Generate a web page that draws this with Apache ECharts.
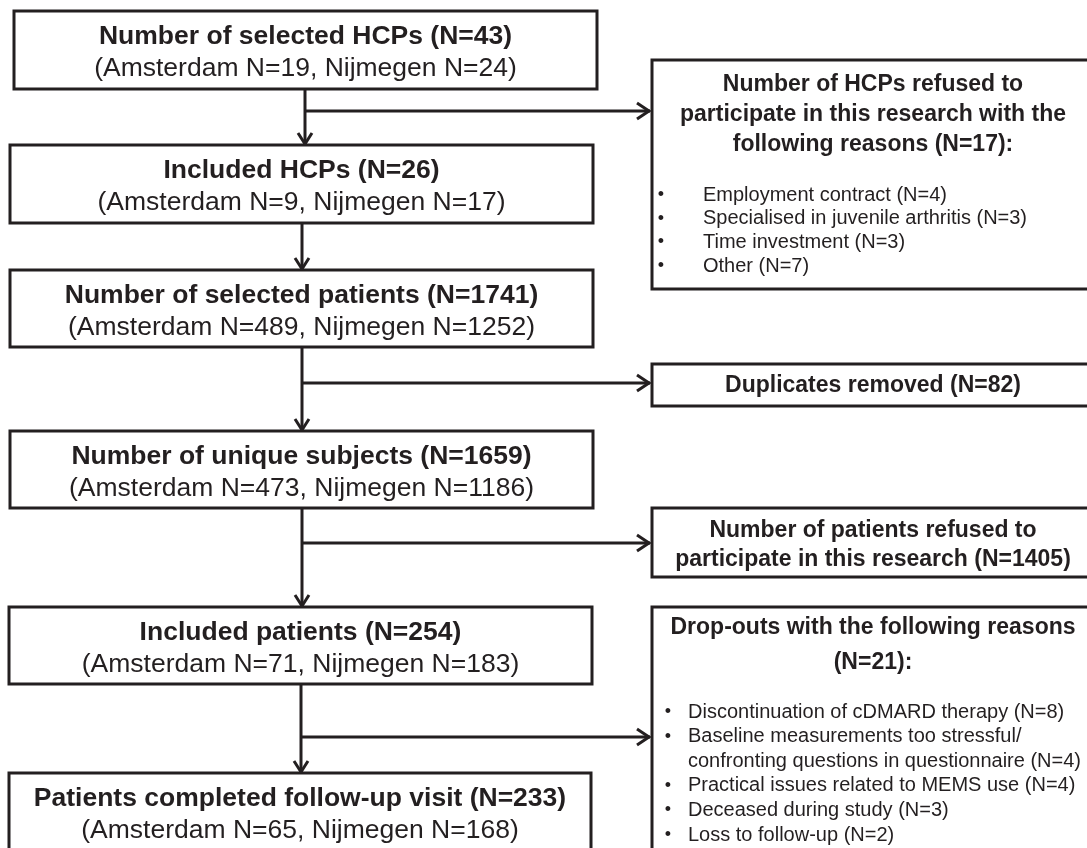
<!DOCTYPE html>
<html><head><meta charset="utf-8">
<script src="https://cdn.jsdelivr.net/npm/echarts@6/dist/echarts.min.js"></script>
<style>html,body{margin:0;padding:0;background:#fff}#c{width:1087px;height:848px}</style>
</head><body><div id="c"></div>
<script>
// ---------------- data ----------------
const stageTitles = ['Number of selected HCPs', 'Included HCPs', 'Number of selected patients',
  'Number of unique subjects', 'Included patients', 'Patients completed follow-up visit'];
const stageTotalN = [43, 26, 1741, 1659, 254, 233];
const stageAmsterdamN = [19, 9, 489, 473, 71, 65];
const stageNijmegenN = [24, 17, 1252, 1186, 183, 168];

const exclusionTitleLines = [
  ['Number of HCPs refused to', 'participate in this research with the', 'following reasons'],
  ['Duplicates removed'],
  ['Number of patients refused to', 'participate in this research'],
  ['Drop-outs with the following reasons', '']
];
const exclusionN = [17, 82, 1405, 21];
const exclusionColon = [true, false, false, true];

const hcpReasons = ['Employment contract', 'Specialised in juvenile arthritis', 'Time investment', 'Other'];
const hcpReasonN = [4, 3, 3, 7];

const dropoutReasons = ['Discontinuation of cDMARD therapy',
  'Baseline measurements too stressful/\nconfronting questions in questionnaire',
  'Practical issues related to MEMS use', 'Deceased during study', 'Loss to follow-up'];
const dropoutReasonN = [8, 4, 4, 3, 2];

// ---------------- layout (pixel space of the hidden axes) ----------------
const L = {
  stageBox: [[14, 597, 11, 89], [10, 593, 145, 223], [10, 593, 270, 347], [10, 593, 431, 508], [9, 592, 607, 684], [9, 591, 773, 900]],
  titleDy: 26, subDy: 58,
  exBox: [[652, 1094, 60, 289], [652, 1094, 364, 406], [652, 1094, 508, 577], [652, 1094, 607, 900]],
  exTitleY: [[85, 115, 145], [386], [531, 560], [628, 663]],
  connectors: [
    {x: 305, y1: 89, y2: 145, by: 111},
    {x: 302, y1: 223, y2: 270},
    {x: 302, y1: 347, y2: 431, by: 383},
    {x: 302, y1: 508, y2: 607, by: 543},
    {x: 301, y1: 684, y2: 773, by: 737}
  ],
  branchEnd: 650,
  hcpBulletX: 661, hcpTextX: 703, hcpY0: 195, hcpStep: 23.7,
  dropBulletX: 668, dropTextX: 688, dropY0: 712, dropStep: 24.6
};

const INK = '#231f20';
const FONT = '"Liberation Sans", Arial, Helvetica, sans-serif';

function txt(x, y, text, size, bold, align) {
  return {
    type: 'text',
    style: {
      text: text, x: x, y: y, fill: INK,
      font: (bold ? 'bold ' : '') + size + 'px ' + FONT,
      align: align || 'center', verticalAlign: 'middle'
    }
  };
}

function rectFrom(api, b) {
  const p1 = api.coord([b[0], b[2]]);
  const p2 = api.coord([b[1], b[3]]);
  return {
    type: 'rect',
    shape: {x: p1[0], y: p1[1], width: p2[0] - p1[0], height: p2[1] - p1[1]},
    style: {fill: '#fff', stroke: INK, lineWidth: 3}
  };
}

const chart = echarts.init(document.getElementById('c'), null, {renderer: 'canvas'});

chart.setOption({
  backgroundColor: '#fff',
  animation: false,
  grid: {left: 0, right: 0, top: 0, bottom: 0},
  xAxis: {type: 'value', min: 0, max: 1087, show: false},
  yAxis: {type: 'value', min: 0, max: 848, inverse: true, show: false},
  series: [
    {
      type: 'custom', name: 'connectors', silent: true,
      data: L.connectors.map((c, i) => [i]),
      renderItem: function (params, api) {
        const c = L.connectors[api.value(0)];
        const top = api.coord([c.x, c.y1]);
        const bot = api.coord([c.x, c.y2]);
        const children = [
          {type: 'polyline', shape: {points: [top, bot]}, style: {stroke: INK, lineWidth: 3, fill: null}},
          {type: 'polyline', shape: {points: [[bot[0] - 7, bot[1] - 12], [bot[0], bot[1] - 1], [bot[0] + 7, bot[1] - 12]]},
            style: {stroke: INK, lineWidth: 3, fill: null, lineJoin: 'miter'}}
        ];
        if (c.by !== undefined) {
          const s = api.coord([c.x, c.by]);
          const e = api.coord([L.branchEnd, c.by]);
          children.push({type: 'polyline', shape: {points: [s, e]}, style: {stroke: INK, lineWidth: 3, fill: null}});
          children.push({type: 'polyline', shape: {points: [[e[0] - 13, e[1] - 8], [e[0] - 1, e[1]], [e[0] - 13, e[1] + 8]]},
            style: {stroke: INK, lineWidth: 3, fill: null, lineJoin: 'miter'}});
        }
        return {type: 'group', children: children};
      }
    },
    {
      type: 'custom', name: 'stages', silent: true,
      data: stageTitles.map((t, i) => [i, stageTotalN[i], stageAmsterdamN[i], stageNijmegenN[i]]),
      renderItem: function (params, api) {
        const i = api.value(0);
        const b = L.stageBox[i];
        const cx = api.coord([(b[0] + b[1]) / 2, 0])[0];
        const yT = api.coord([0, b[2] + L.titleDy])[1];
        const yS = api.coord([0, b[2] + L.subDy])[1];
        return {
          type: 'group', children: [
            rectFrom(api, b),
            txt(cx, yT, stageTitles[i] + ' (N=' + api.value(1) + ')', 26.5, true),
            txt(cx, yS, '(Amsterdam N=' + api.value(2) + ', Nijmegen N=' + api.value(3) + ')', 26.5, false)
          ]
        };
      }
    },
    {
      type: 'custom', name: 'exclusions', silent: true,
      data: exclusionN.map((n, i) => [i, n]),
      renderItem: function (params, api) {
        const i = api.value(0);
        const b = L.exBox[i];
        const cx = api.coord([(b[0] + b[1]) / 2, 0])[0];
        const lines = exclusionTitleLines[i].slice();
        const last = lines.length - 1;
        lines[last] = (lines[last] ? lines[last] + ' ' : '') + '(N=' + api.value(1) + ')' + (exclusionColon[i] ? ':' : '');
        const children = [rectFrom(api, b)];
        lines.forEach((t, k) => {
          children.push(txt(cx, api.coord([0, L.exTitleY[i][k]])[1], t, 23, true));
        });
        if (i === 0) {
          hcpReasons.forEach((r, k) => {
            const y = api.coord([0, L.hcpY0 + k * L.hcpStep])[1];
            children.push(txt(api.coord([L.hcpBulletX, 0])[0], y, '•', 18, false, 'center'));
            children.push(txt(api.coord([L.hcpTextX, 0])[0], y, r + ' (N=' + hcpReasonN[k] + ')', 20, false, 'left'));
          });
        }
        if (i === 3) {
          let line = 0;
          dropoutReasons.forEach((r, k) => {
            const parts = (r + ' (N=' + dropoutReasonN[k] + ')').split('\n');
            parts.forEach((p, j) => {
              const y = api.coord([0, L.dropY0 + line * L.dropStep])[1];
              if (j === 0) children.push(txt(api.coord([L.dropBulletX, 0])[0], y, '•', 18, false, 'center'));
              children.push(txt(api.coord([L.dropTextX, 0])[0], y, p, 20, false, 'left'));
              line++;
            });
          });
        }
        return {type: 'group', children: children};
      }
    }
  ]
});
</script>
</body></html>
